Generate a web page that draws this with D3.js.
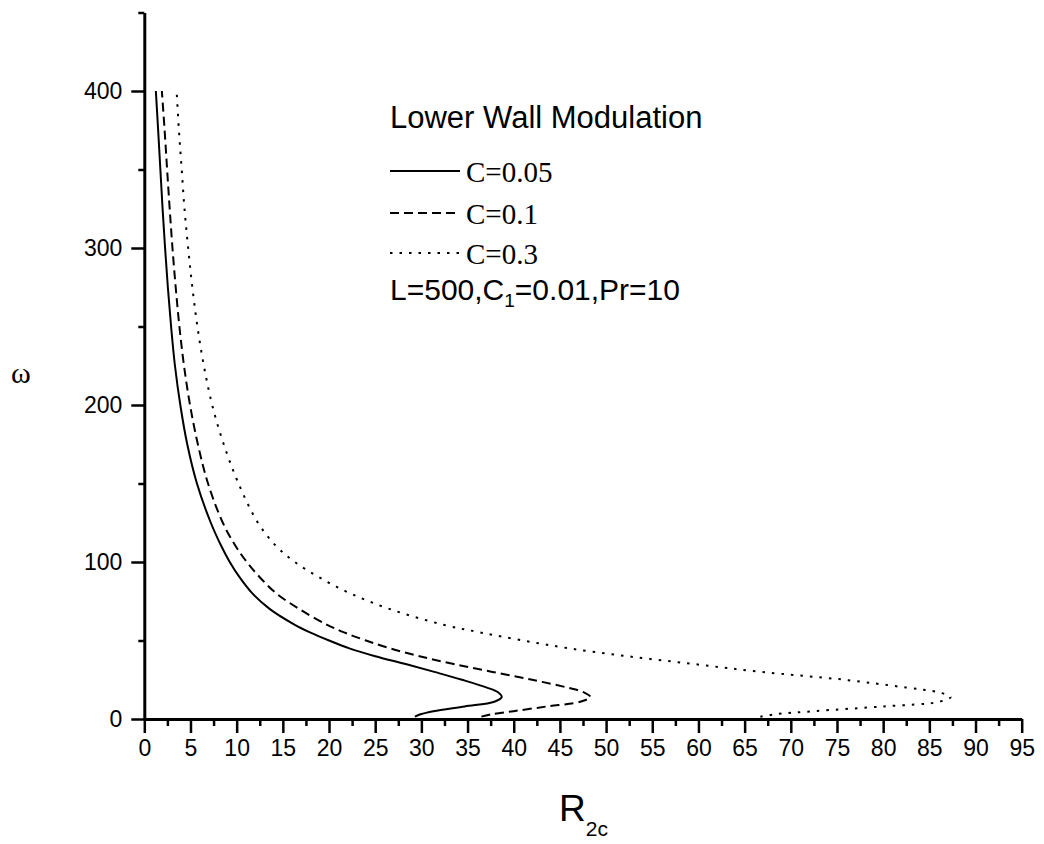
<!DOCTYPE html>
<html>
<head>
<meta charset="utf-8">
<script src="https://cdn.jsdelivr.net/npm/d3@7"></script>
<style>
  body { margin: 0; background: #fff; }
  svg { display: block; }
  .tick text { font-family: "Liberation Sans", Arial, sans-serif; font-size: 23px; fill: #000; }
</style>
</head>
<body>
<div id="chart"></div>
<script>
// omega grid shared by all three curves
var omega = [1.5, 3, 5, 8, 11, 14, 17, 20, 25, 30, 35, 40, 45, 50, 55, 60, 70, 80, 90, 100, 110,
             125, 150, 175, 200, 225, 250, 275, 300, 325, 350, 375, 400];

// critical R2c, one array per C
var r_c005 = [29.3, 29.9, 31.3, 34.7, 37.9, 38.7, 38.3, 37.1, 34.4, 31.4, 28.3, 25.0, 22.2, 20.0, 18.0, 16.3, 13.6, 11.7, 10.35, 9.25, 8.35,
              7.2, 5.7, 4.65, 3.9, 3.32, 2.9, 2.55, 2.25, 1.98, 1.74, 1.5, 1.25];
var r_c01  = [36.5, 37.6, 40.0, 43.6, 47.2, 48.3, 47.6, 45.8, 42.0, 37.7, 33.5, 29.8, 26.6, 24.0, 21.7, 19.8, 16.8, 14.3, 12.55, 11.1, 9.9,
              8.5, 6.9, 5.8, 4.95, 4.3, 3.8, 3.4, 3.05, 2.75, 2.47, 2.2, 1.9];
var r_c03  = [66.7, 68.3, 72.5, 80.0, 86.1, 87.3, 86.0, 82.5, 75.8, 66.8, 59.5, 52.3, 46.0, 41.0, 36.5, 32.4, 26.6, 22.3, 19.0, 16.3, 14.3,
              12.3, 10.2, 8.6, 7.35, 6.45, 5.75, 5.2, 4.75, 4.35, 4.05, 3.75, 3.5];

var seriesNames = ["C=0.05", "C=0.1", "C=0.3"];
var seriesDash = [null, "9,5", "2.5,7"];

var xTicks = d3.range(0, 96, 5);
var xMinor = d3.range(2.5, 95, 5);
var yTicks = [0, 100, 200, 300, 400];
var yMinor = [50, 150, 250, 350, 450];

var width = 1044, height = 844;

var svg = d3.select("#chart")
  .append("svg")
    .attr("width", width)
    .attr("height", height);

// scales
var x = d3.scaleLinear().domain([0, 95]).range([144.3, 1021.7]);
var y = d3.scaleLinear().domain([0, 450]).range([719, 12.5]);

// x axis
var gx = svg.append("g")
    .attr("transform", "translate(0," + y(0) + ")")
    .call(d3.axisBottom(x).tickValues(xTicks).tickSize(14).tickSizeOuter(0).tickPadding(6));
svg.append("g")
    .attr("transform", "translate(0," + y(0) + ")")
    .call(d3.axisBottom(x).tickValues(xMinor).tickSize(7).tickSizeOuter(0).tickFormat(""))
    .select(".domain").remove();

// y axis
var gy = svg.append("g")
    .attr("transform", "translate(" + x(0) + ",0)")
    .call(d3.axisLeft(y).tickValues(yTicks).tickSize(13).tickSizeOuter(0).tickPadding(9));
svg.append("g")
    .attr("transform", "translate(" + x(0) + ",0)")
    .call(d3.axisLeft(y).tickValues(yMinor).tickSize(6).tickSizeOuter(0).tickFormat(""))
    .select(".domain").remove();

svg.selectAll(".domain").attr("stroke", "#000").attr("stroke-width", 3);
svg.selectAll(".tick line").attr("stroke", "#000").attr("stroke-width", 2.5);
gx.selectAll(".tick text").attr("dy", "0.72em");

// curves
var allR = [r_c005, r_c01, r_c03];
var line = d3.line()
    .x(function(d) { return x(d[0]); })
    .y(function(d) { return y(d[1]); })
    .curve(d3.curveCatmullRom.alpha(0.5));

allR.forEach(function(rs, i) {
  var pts = rs.map(function(r, j) { return [r, omega[j]]; });
  svg.append("path")
      .datum(pts)
      .attr("fill", "none")
      .attr("stroke", "#000")
      .attr("stroke-width", 2)
      .attr("stroke-dasharray", seriesDash[i])
      .attr("d", line);
});

// legend
var legend = svg.append("g");
legend.append("text")
    .attr("x", 390).attr("y", 128)
    .style("font-family", "Liberation Sans, Arial, sans-serif")
    .style("font-size", "31px")
    .text("Lower Wall Modulation");

var legY = [171, 213, 253];
seriesNames.forEach(function(name, i) {
  legend.append("line")
      .attr("x1", 390).attr("x2", 460)
      .attr("y1", legY[i]).attr("y2", legY[i])
      .attr("stroke", "#000")
      .attr("stroke-width", 2)
      .attr("stroke-dasharray", seriesDash[i]);
  legend.append("text")
      .attr("x", 466).attr("y", legY[i] + 11)
      .style("font-family", "Liberation Serif, Times New Roman, serif")
      .style("font-size", "29px")
      .text(name);
});

var params = legend.append("text")
    .attr("x", 390).attr("y", 300)
    .style("font-family", "Liberation Sans, Arial, sans-serif")
    .style("font-size", "30px");
params.append("tspan").text("L=500,C");
params.append("tspan").attr("dy", 7).style("font-size", "19px").text("1");
params.append("tspan").attr("dy", -7).text("=0.01,Pr=10");

// axis titles
svg.append("text")
    .attr("x", 11).attr("y", 383)
    .style("font-family", "Liberation Serif, Times New Roman, serif")
    .style("font-size", "30px")
    .text("ω");

var xt = svg.append("text")
    .attr("x", 559).attr("y", 821)
    .style("font-family", "Liberation Sans, Arial, sans-serif")
    .style("font-size", "37px");
xt.append("tspan").text("R");
xt.append("tspan").attr("dy", 15).style("font-size", "21px").text("2c");
</script>
</body>
</html>
